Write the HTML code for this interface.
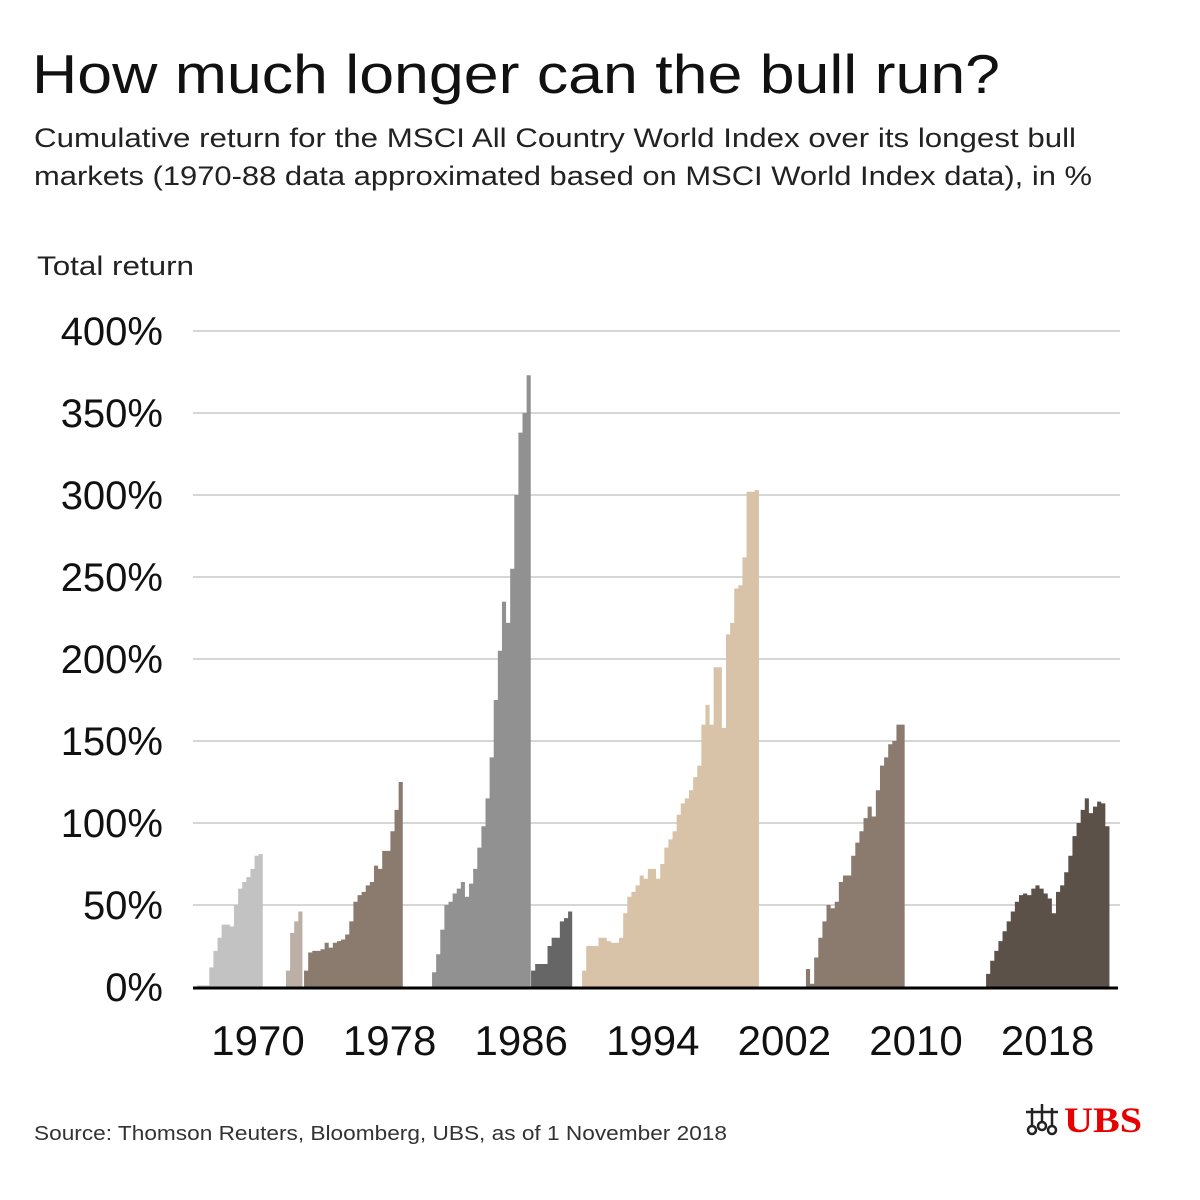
<!DOCTYPE html>
<html><head><meta charset="utf-8"><style>
html,body{margin:0;padding:0;background:#fff;}
svg{display:block;font-family:"Liberation Sans",sans-serif;}
</style></head><body>
<svg id="chart" width="1200" height="1200" viewBox="0 0 1200 1200" xmlns="http://www.w3.org/2000/svg">
<rect width="1200" height="1200" fill="#fff"/>
<text x="32" y="93" font-size="55" fill="#111" textLength="968" lengthAdjust="spacingAndGlyphs">How much longer can the bull run?</text>
<text x="34" y="147" font-size="27" fill="#222" textLength="1042" lengthAdjust="spacingAndGlyphs">Cumulative return for the MSCI All Country World Index over its longest bull</text>
<text x="34" y="185" font-size="27" fill="#222" textLength="1058" lengthAdjust="spacingAndGlyphs">markets (1970-88 data approximated based on MSCI World Index data), in %</text>
<text x="37" y="275" font-size="27" fill="#222" textLength="157" lengthAdjust="spacingAndGlyphs">Total return</text>
<g id="grid"></g>
<g id="yticks"></g>
<g id="series"></g>
<line x1="193" y1="988" x2="1118" y2="988" stroke="#000" stroke-width="3"/>
<g id="xticks"></g>
<text x="34" y="1140" font-size="20" fill="#333" textLength="693" lengthAdjust="spacingAndGlyphs">Source: Thomson Reuters, Bloomberg, UBS, as of 1 November 2018</text>
<g>
<g stroke="#222" stroke-width="2.5" fill="none">
<circle cx="1032" cy="1130" r="4"/><circle cx="1042" cy="1126" r="4"/><circle cx="1052" cy="1130" r="4"/>
<line x1="1042" y1="1104" x2="1042" y2="1122"/><line x1="1032" y1="1108" x2="1032" y2="1126"/><line x1="1052" y1="1108" x2="1052" y2="1126"/>
<line x1="1026" y1="1112" x2="1058" y2="1112"/>
</g>
<text x="1064" y="1132" font-family="Liberation Serif,serif" font-weight="bold" font-size="36" fill="#e60000" textLength="78" lengthAdjust="spacingAndGlyphs">UBS</text>
</g>
</svg>
<script>
const yTickValues = [0,50,100,150,200,250,300,350,400];
const yTickLabels = ["0%","50%","100%","150%","200%","250%","300%","350%","400%"];
const xTickYears = [1970,1978,1986,1994,2002,2010,2018];
const xTickLabels = ["1970","1978","1986","1994","2002","2010","2018"];
const seriesStarts = [1966.29,1971.70,1972.80,1980.58,1986.60,1989.70,2003.31,2014.26];
const seriesColors = ["#c2c2c2","#bcb0a6","#8a7b6e","#919191","#666666","#d9c3a8","#8a7b6e","#5b5148"];
const s1 = [1,1,1,12,22,30,38,38,37,50,60,64,67,72,80,81];
const s2 = [10,33,40,46];
const s3 = [10,21,22,22,23,27,24,27,28,29,32,40,52,56,58,62,64,74,72,83,83,95,108,125];
const s4 = [9,20,35,50,52,57,60,64,55,63,72,85,98,115,140,175,205,235,222,255,300,338,350,373];
const s5 = [10,14,14,14,25,30,30,40,42,46];
const s6 = [10,25,25,25,30,30,28,27,27,30,45,55,58,62,68,66,72,72,66,75,85,90,95,105,112,115,120,128,135,160,172,160,195,195,158,215,222,243,245,262,302,302,303];
const s7 = [11,2,18,30,40,50,48,52,64,68,68,80,88,95,103,110,104,120,135,140,148,150,160,160];
const s8 = [8,16,22,28,34,40,46,52,56,57,56,60,62,60,57,54,45,58,62,70,80,92,100,108,115,106,110,113,112,98];
const allSeries = [s1,s2,s3,s4,s5,s6,s7,s8];
const step = 0.25;

const NS = "http://www.w3.org/2000/svg";
function xScale(year){ return 258 + (year - 1970) * 16.45; }
function yScale(v){ return 987 - v * 1.64; }

const grid = document.getElementById('grid');
const yt = document.getElementById('yticks');
yTickValues.forEach((v,i)=>{
  if (v > 0) {
    const l = document.createElementNS(NS,'line');
    
    
    l.setAttribute('x1',193); l.setAttribute('x2',1120);
    l.setAttribute('y1',yScale(v)); l.setAttribute('y2',yScale(v));
    l.setAttribute('stroke','#c8c8c8'); l.setAttribute('stroke-width','1.5');
    grid.appendChild(l);
  }
  const t = document.createElementNS(NS,'text');
  
  
  t.setAttribute('x',163); t.setAttribute('y',yScale(v)+14);
  t.setAttribute('text-anchor','end'); t.setAttribute('font-size','40'); t.setAttribute('fill','#111');
  t.textContent = yTickLabels[i];
  yt.appendChild(t);
});

const xt = document.getElementById('xticks');
xTickYears.forEach((y,i)=>{
  const t = document.createElementNS(NS,'text');
  
  
  t.setAttribute('x',xScale(y)); t.setAttribute('y',1055);
  t.setAttribute('text-anchor','middle'); t.setAttribute('font-size','42'); t.setAttribute('fill','#111');
  t.textContent = xTickLabels[i];
  xt.appendChild(t);
});

const sg = document.getElementById('series');
allSeries.forEach((vals,si)=>{
  const start = seriesStarts[si];
  let d = 'M' + xScale(start) + ',' + yScale(0);
  vals.forEach((v,i)=>{
    const x0 = xScale(start + i*step), x1 = xScale(start + (i+1)*step);
    d += ' L' + x0 + ',' + yScale(v) + ' L' + x1 + ',' + yScale(v);
  });
  d += ' L' + xScale(start + vals.length*step) + ',' + yScale(0) + ' Z';
  const p = document.createElementNS(NS,'path');
  
  
  p.setAttribute('d', d);
  p.setAttribute('fill', seriesColors[si]);
  sg.appendChild(p);
});
</script>
</body></html>
